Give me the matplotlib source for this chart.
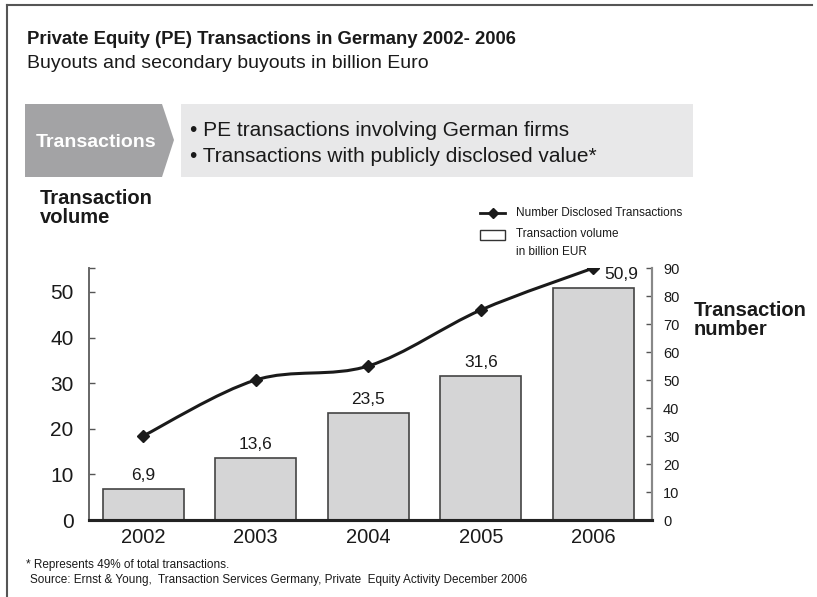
import matplotlib
matplotlib.use("Agg")
import matplotlib.pyplot as plt
from matplotlib.path import Path
from matplotlib.patches import PathPatch, Polygon, Rectangle
from matplotlib.lines import Line2D
import numpy as np

plt.rcParams['font.family'] = ['Liberation Sans', 'DejaVu Sans']

years = ['2002', '2003', '2004', '2005', '2006']
volume = [6.9, 13.6, 23.5, 31.6, 50.9]
volume_labels = ['6,9', '13,6', '23,5', '31,6', '50,9']
number = [30, 50, 55, 75, 90]
left_ticks = [0, 10, 20, 30, 40, 50]
right_ticks = [0, 10, 20, 30, 40, 50, 60, 70, 80, 90]

W, H = 817, 597
fig = plt.figure(figsize=(W / 100, H / 100), dpi=100)

def fx(px):
    return px / W

def fy(py):
    return 1 - py / H

TXT = '#1a1a1a'

# border lines (top and left)
fig.add_artist(Line2D([fx(7), fx(812)], [fy(5), fy(5)], color='#555555', lw=1.5))
fig.add_artist(Line2D([fx(7), fx(7)], [fy(5), fy(597)], color='#555555', lw=1.5))

# titles
fig.text(fx(27), fy(40), 'Private Equity (PE) Transactions in Germany 2002- 2006',
         fontsize=13.3, fontweight='bold', color=TXT, va='center', ha='left')
fig.text(fx(27), fy(63), 'Buyouts and secondary buyouts in billion Euro',
         fontsize=14, color=TXT, va='center', ha='left')

# banner
arrow = Polygon([[fx(25), fy(104)], [fx(162), fy(104)], [fx(174), fy(140)],
                 [fx(162), fy(177)], [fx(25), fy(177)]], closed=True,
                transform=fig.transFigure, facecolor='#a3a3a5', edgecolor='none')
fig.add_artist(arrow)
box = Rectangle((fx(181), fy(177)), fx(693) - fx(181), fy(104) - fy(177),
                transform=fig.transFigure, facecolor='#e8e8e9', edgecolor='none')
fig.add_artist(box)
fig.text(fx(96), fy(142), 'Transactions', fontsize=14, fontweight='bold',
         color='white', ha='center', va='center')
fig.text(fx(190), fy(131), '\u2022 PE transactions involving German firms',
         fontsize=15, color=TXT, ha='left', va='center')
fig.text(fx(190), fy(156), '\u2022 Transactions with publicly disclosed value*',
         fontsize=15, color=TXT, ha='left', va='center')

# axis titles
fig.text(fx(40), fy(208), 'Transaction\nvolume', fontsize=14.5, fontweight='bold',
         color=TXT, ha='left', va='center', linespacing=1.05)
fig.text(fx(694), fy(320), 'Transaction\nnumber', fontsize=14.5, fontweight='bold',
         color=TXT, ha='left', va='center', linespacing=1.05)

# axes
ax = fig.add_axes([fx(89), fy(520), fx(652) - fx(89), fy(268) - fy(520)])
ax2 = ax.twinx()

x = np.arange(len(years))
ax.bar(x, volume, width=0.72, facecolor='#d5d5d6', edgecolor='#444444', linewidth=1.2, zorder=2)
for xi, v, lab in zip(x, volume, volume_labels):
    dx = 0.25 if xi == len(years) - 1 else 0.0
    ax.text(xi + dx, v + 1.3, lab, fontsize=12.5, color=TXT, ha='center', va='bottom')

ax.set_xlim(-0.48, 4.52)
ax.set_ylim(0, 55.26)
ax2.set_ylim(0, 90)

ax.set_xticks(x)
ax.set_xticklabels(years, fontsize=14.5, color=TXT)
ax.tick_params(axis='x', length=0, pad=6)
ax.set_yticks(left_ticks)
ax.set_yticks([55.26], minor=True)
ax.tick_params(axis='y', which='both', direction='in', length=4, width=1, color='#555555',
               labelsize=15, labelcolor=TXT, pad=11)
ax2.set_yticks(right_ticks)
ax2.tick_params(axis='y', direction='in', length=4, width=1, color='#555555',
                labelsize=10.5, labelcolor=TXT, pad=8)

for a in (ax, ax2):
    a.spines['top'].set_visible(False)
    a.spines['left'].set_color('#666666')
    a.spines['right'].set_color('#888888')
    a.spines['left'].set_linewidth(1.2)
    a.spines['right'].set_linewidth(1.5)
    a.spines['bottom'].set_color('#222222')
    a.spines['bottom'].set_linewidth(2.2)
    a.patch.set_visible(False)

# smoothed line (Catmull-Rom Bezier through data points)
pts = np.column_stack([x.astype(float), np.array(number, dtype=float)])
verts = [tuple(pts[0])]
codes = [Path.MOVETO]
n = len(pts)
for i in range(n - 1):
    p0 = pts[i - 1] if i > 0 else pts[i]
    p1 = pts[i]
    p2 = pts[i + 1]
    p3 = pts[i + 2] if i + 2 < n else pts[i + 1]
    c1 = p1 + (p2 - p0) / 6.0
    c2 = p2 - (p3 - p1) / 6.0
    verts += [tuple(c1), tuple(c2), tuple(p2)]
    codes += [Path.CURVE4, Path.CURVE4, Path.CURVE4]
ax2.add_patch(PathPatch(Path(verts, codes), facecolor='none', edgecolor=TXT, lw=2.2, zorder=3))
ax2.plot(x, number, linestyle='none', marker='D', markersize=6, color=TXT, zorder=4)

# legend (drawn manually)
fig.add_artist(Line2D([fx(480), fx(505)], [fy(213), fy(213)], color=TXT, lw=2))
fig.add_artist(Line2D([fx(492.5)], [fy(213)], color=TXT, marker='D', markersize=5, linestyle='none'))
fig.add_artist(Rectangle((fx(480), fy(240)), fx(505) - fx(480), fy(230) - fy(240),
                         transform=fig.transFigure, facecolor='white', edgecolor='#333333', lw=1))
fig.text(fx(516), fy(213), 'Number Disclosed Transactions', fontsize=8.5, color=TXT,
         ha='left', va='center')
fig.text(fx(516), fy(234), 'Transaction volume', fontsize=8.5, color=TXT, ha='left', va='center')
fig.text(fx(516), fy(252), 'in billion EUR', fontsize=8.5, color=TXT, ha='left', va='center')

# footnotes
fig.text(fx(26), fy(565), '* Represents 49% of total transactions.', fontsize=8.5,
         color=TXT, ha='left', va='center')
fig.text(fx(30), fy(580), 'Source: Ernst & Young,  Transaction Services Germany, Private  Equity Activity December 2006',
         fontsize=8.5, color=TXT, ha='left', va='center')

fig.savefig('out.png', dpi=100)
